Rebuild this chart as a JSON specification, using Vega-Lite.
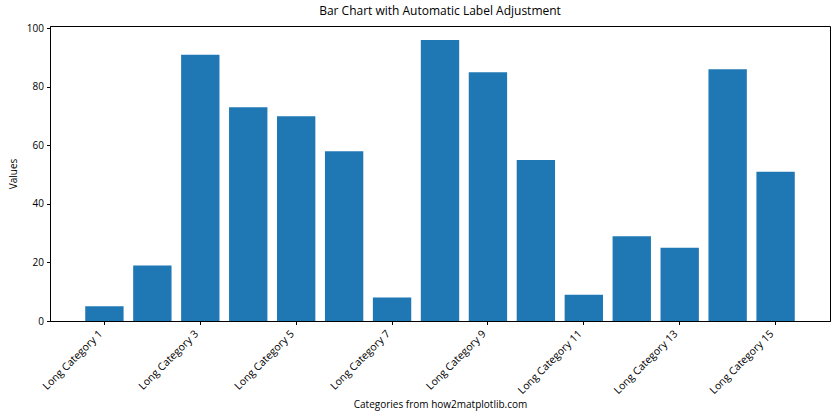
{
  "$schema": "https://vega.github.io/schema/vega-lite/v6.json",
  "autosize": "none",
  "width": 780,
  "height": 295,
  "padding": {"left": 50, "top": 26, "right": 10, "bottom": 99},
  "background": "white",
  "config": {
    "font": "Open Sans",
    "view": {"stroke": "black", "strokeWidth": 1}
  },
  "title": {"text": "Bar Chart with Automatic Label Adjustment", "fontSize": 12, "fontWeight": "normal", "color": "black", "offset": 5},
  "data": {
    "values": [
      {"category": "Long Category 1", "value": 5},
      {"category": "Long Category 2", "value": 19},
      {"category": "Long Category 3", "value": 91},
      {"category": "Long Category 4", "value": 73},
      {"category": "Long Category 5", "value": 70},
      {"category": "Long Category 6", "value": 58},
      {"category": "Long Category 7", "value": 8},
      {"category": "Long Category 8", "value": 96},
      {"category": "Long Category 9", "value": 85},
      {"category": "Long Category 10", "value": 55},
      {"category": "Long Category 11", "value": 9},
      {"category": "Long Category 12", "value": 29},
      {"category": "Long Category 13", "value": 25},
      {"category": "Long Category 14", "value": 86},
      {"category": "Long Category 15", "value": 51}
    ]
  },
  "mark": {"type": "bar", "color": "#1f77b4"},
  "encoding": {
    "x": {
      "field": "category",
      "type": "nominal",
      "sort": null,
      "scale": {"paddingInner": 0.2, "paddingOuter": 0.735},
      "axis": {
        "values": ["Long Category 1", "Long Category 3", "Long Category 5", "Long Category 7", "Long Category 9", "Long Category 11", "Long Category 13", "Long Category 15"],
        "title": "Categories from how2matplotlib.com",
        "titleFontSize": 10,
        "titleFontWeight": "normal",
        "titleColor": "black",
        "titlePadding": 4,
        "labelAngle": -45,
        "labelAlign": "right",
        "labelBaseline": "bottom",
        "labelFontSize": 10.5,
        "labelColor": "black",
        "labelPadding": 11,
        "tickColor": "black",
        "tickSize": 3.5,
        "domainColor": "black",
        "grid": false
      }
    },
    "y": {
      "field": "value",
      "type": "quantitative",
      "scale": {"domain": [0, 100.8], "nice": false},
      "axis": {
        "values": [0, 20, 40, 60, 80, 100],
        "title": "Values",
        "titleFontSize": 10,
        "titleFontWeight": "normal",
        "titleColor": "black",
        "titlePadding": 8,
        "labelFontSize": 10,
        "labelColor": "black",
        "labelPadding": 3,
        "tickColor": "black",
        "tickSize": 3.5,
        "domainColor": "black",
        "grid": false
      }
    }
  }
}
